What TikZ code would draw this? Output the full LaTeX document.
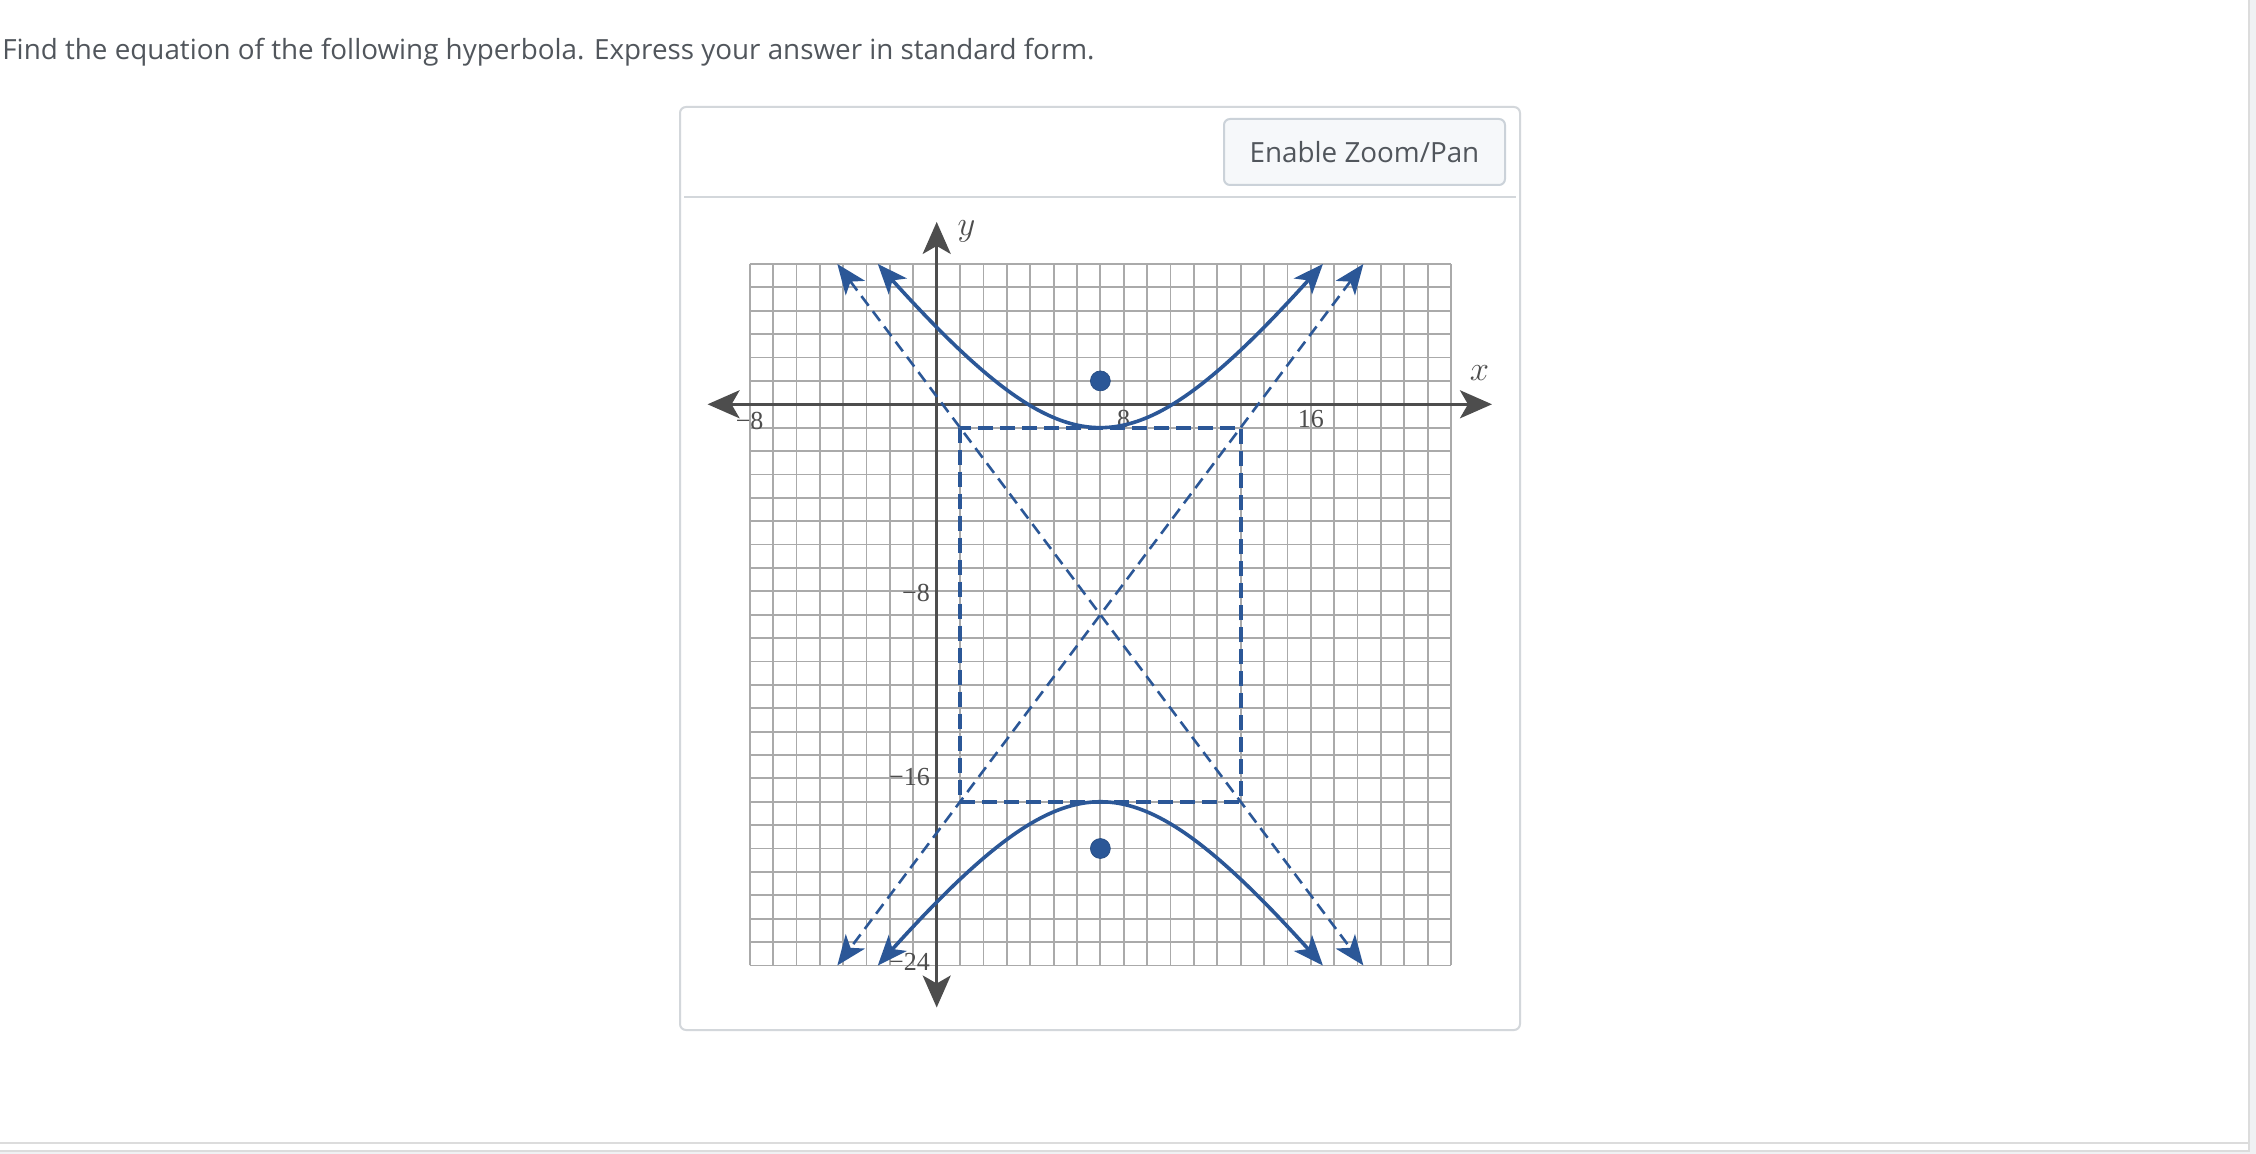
\documentclass[tikz,border=0pt]{standalone}
\usepackage{fontspec}
\setmainfont{Liberation Serif}
\newfontfamily\uifont{Open Sans}
\usetikzlibrary{arrows.meta}
\definecolor{hblue}{HTML}{2B5797}
\definecolor{axisgray}{HTML}{4D4D4D}
\definecolor{gridgray}{HTML}{AAAAAA}
\definecolor{uitext}{HTML}{51565C}
\definecolor{panelborder}{HTML}{D3D7DB}
\definecolor{btnfill}{HTML}{F6F8FA}
\definecolor{btnborder}{HTML}{CBD2D9}
\definecolor{pageline}{HTML}{DCDCDC}
\definecolor{pagegray}{HTML}{F0F1F3}
\begin{document}
\begin{tikzpicture}[x=0.5pt,y=-0.5pt,
  uitextstyle/.style={font=\uifont\fontsize{13.9}{16}\selectfont, text=uitext, inner sep=0pt},
  gridline/.style={draw=gridgray, line width=0.9pt},
  axisline/.style={draw=axisgray, line width=1.4pt, {Stealth[length=16pt,width=14pt,inset=4pt]}-{Stealth[length=16pt,width=14pt,inset=4pt]}},
  ticklabel/.style={font=\fontsize{13}{15}\selectfont, text=axisgray, inner sep=0pt},
  axislabel/.style={font=\fontsize{17}{20}\selectfont, text=axisgray, inner sep=0pt},
  curve/.style={draw=hblue, line width=1.8pt, {Stealth[length=15pt,width=12pt,inset=4pt]}-{Stealth[length=15pt,width=12pt,inset=4pt]}},
  asym/.style={draw=hblue, line width=1.3pt, dash pattern=on 6pt off 3.5pt, {Stealth[length=15pt,width=12pt,inset=4pt]}-{Stealth[length=15pt,width=12pt,inset=4pt]}},
  boxdash/.style={draw=hblue, line width=2pt, dash pattern=on 7.5pt off 3.5pt},
  focus/.style={circle, fill=hblue, draw=hblue!85!black, line width=0.3pt, minimum size=10pt, inner sep=0pt}
]
\useasboundingbox (0,0) rectangle (2256,1154);
\fill[white] (0,0) rectangle (2256,1154);
% page frame
\fill[pagegray] (2250,0) rectangle (2256,1154);
\fill[pagegray] (0,1152) rectangle (2256,1154);
\draw[pageline, line width=1pt] (2249,0) -- (2249,1152);
\draw[pageline, line width=1pt] (0,1142.5) -- (2249,1142.5);
\draw[pageline, line width=1pt] (0,1151) -- (2249,1151);

% title
\node[uitextstyle, anchor=base west] (title) at (2,60) {Find the equation of the following hyperbola. Express your answer in standard form.};

% panel
\draw[panelborder, line width=1pt, rounded corners=3pt] (680,107) rectangle (1520,1030);
\draw[panelborder, line width=1pt] (684,197) -- (1516,197);
\node[uitextstyle, draw=btnborder, fill=btnfill, rounded corners=3pt, line width=1pt,
      minimum width=140.5pt, minimum height=33pt] (zoombtn) at (1364.5,152) {Enable Zoom/Pan};

% graph
\begin{scope}[shift={(936.7,404.3)}, x=11.69pt, y=11.69pt]
  \foreach \i in {-8,...,22} \draw[gridline] (\i,-24) -- (\i,6);
  \foreach \j in {-24,...,6} \draw[gridline] (-8,\j) -- (22,\j);
  \coordinate (xl) at (-9.8,0);
  \coordinate (xr) at (23.75,0);
  \coordinate (yt) at (0,7.8);
  \coordinate (yb) at (0,-25.8);
  \draw[axisline] (xl) -- (xr);
  \draw[axisline] (yb) -- (yt);
  \node[ticklabel] (lxm8) at (-8,-0.72) {−8};
  \node[ticklabel] (lx8) at (8,-0.62) {8};
  \node[ticklabel] (lx16) at (16,-0.62) {16};
  \node[ticklabel, anchor=east] (lym8) at (-0.28,-8.07) {−8};
  \node[ticklabel, anchor=east] (lym16) at (-0.28,-15.93) {−16};
  \node[ticklabel, anchor=east] (lym24) at (-0.28,-23.85) {−24};
  \node[axislabel] (xlab) at (23.22,1.34) {$x$};
  \node[axislabel] (ylab) at (1.27,7.4) {$y$};
  % box
  \coordinate (b1) at (1,-1);
  \coordinate (b2) at (13,-17);
  \draw[boxdash] (b1) rectangle (b2);
  % asymptotes
  \coordinate (a1) at (-4.25,6);
  \coordinate (a2) at (18.25,-24);
  \coordinate (a3) at (18.25,6);
  \coordinate (a4) at (-4.25,-24);
  \draw[asym] (a1) -- (a2);
  \draw[asym] (a3) -- (a4);
  % hyperbola
  \draw[curve] plot[domain=-2.52:16.52, samples=121, smooth] (\x, {-9+8*sqrt(1+((\x-7)/6)^2)});
  \draw[curve] plot[domain=-2.52:16.52, samples=121, smooth] (\x, {-9-8*sqrt(1+((\x-7)/6)^2)});
  % foci
  \node[focus] (f1) at (7,1) {};
  \node[focus] (f2) at (7,-19) {};
\end{scope}
\end{tikzpicture}
\end{document}
